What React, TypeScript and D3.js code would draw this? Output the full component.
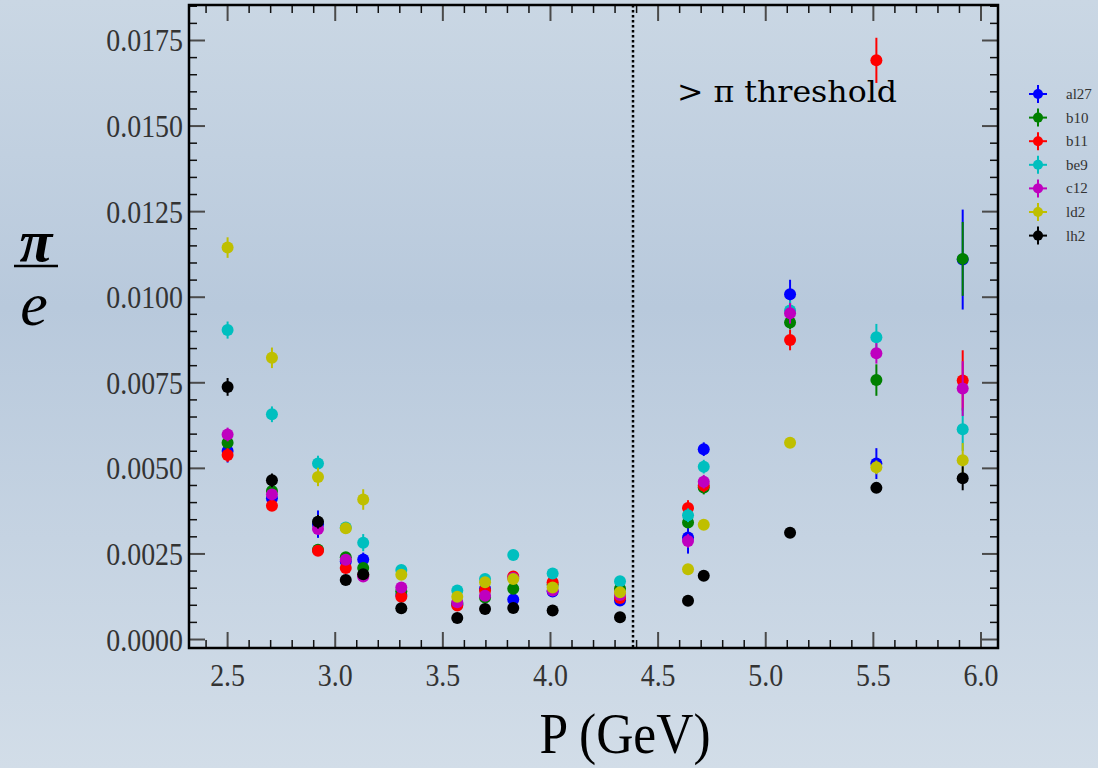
import React from "react";
import * as d3 from "d3";

const momenta = [2.5, 2.706, 2.92, 3.049, 3.13, 3.307, 3.567, 3.696, 3.827, 4.01, 4.323, 4.639, 4.712, 5.113, 5.514, 5.915];

const al27 = [0.00551, 0.00413, 0.00337, 0.00228, 0.00234, 0.0013, 0.00102, 0.00148, 0.00117, 0.0014, 0.00114, 0.00298, 0.00556, 0.01009, 0.00514, 0.0111];
const al27Err = [0.00034, 0.00015, 0.0004, 0.0001, 0.0002, 0.0001, 0.0001, 0.0001, 0.0001, 0.0001, 0.00015, 0.00047, 0.0002, 0.00042, 0.00045, 0.00146];
const b10 = [0.00575, 0.00434, 0.00262, 0.0024, 0.00209, 0.00141, 0.00105, 0.00123, 0.00148, 0.0016, 0.00148, 0.00342, 0.00444, 0.00926, 0.00758, 0.01112];
const b10Err = [0.0002, 0.00015, 0.0001, 0.0001, 0.0001, 0.0001, 0.0001, 0.0001, 0.0001, 0.0001, 0.0001, 0.00015, 0.0002, 0.0002, 0.00046, 0.00108];
const b11 = [0.00539, 0.00391, 0.00259, 0.00209, 0.00188, 0.00125, 0.00099, 0.00143, 0.00184, 0.00167, 0.00121, 0.00384, 0.0045, 0.00875, 0.01692, 0.00757];
const b11Err = [0.0002, 0.00015, 0.0001, 0.0001, 0.0001, 0.0001, 0.0001, 0.0001, 0.0001, 0.0001, 0.0001, 0.00023, 0.0002, 0.0003, 0.00066, 0.00088];
const be9 = [0.00904, 0.00658, 0.00514, 0.00327, 0.00283, 0.00203, 0.00143, 0.00177, 0.00247, 0.00193, 0.0017, 0.00363, 0.00505, 0.00961, 0.00883, 0.00614];
const be9Err = [0.00025, 0.00023, 0.00023, 0.0001, 0.00025, 0.0001, 0.0001, 0.0001, 0.0001, 0.0001, 0.0001, 0.0002, 0.0002, 0.0003, 0.00039, 0.00063];
const c12 = [0.00599, 0.00424, 0.00323, 0.00233, 0.00184, 0.00152, 0.00109, 0.00128, 0.0018, 0.00143, 0.0013, 0.00288, 0.00461, 0.00953, 0.00836, 0.00733];
const c12Err = [0.0002, 0.00015, 0.00015, 0.0001, 0.0001, 0.0001, 0.0001, 0.0001, 0.0001, 0.0001, 0.0001, 0.0002, 0.0002, 0.0003, 0.0003, 0.0008];
const ld2 = [0.01145, 0.00823, 0.00475, 0.00325, 0.00409, 0.00189, 0.00125, 0.00167, 0.00177, 0.00152, 0.00138, 0.00205, 0.00335, 0.00575, 0.00503, 0.00524];
const ld2Err = [0.0003, 0.0003, 0.00027, 0.0001, 0.0003, 0.0001, 0.0001, 0.0001, 0.0001, 0.0001, 0.0001, 0.0001, 0.0001, 0.0001, 0.0002, 0.0005];
const lh2 = [0.00738, 0.00465, 0.00344, 0.00174, 0.00191, 0.00091, 0.00063, 0.00089, 0.00092, 0.00085, 0.00065, 0.00113, 0.00186, 0.00312, 0.00443, 0.00471];
const lh2Err = [0.00026, 0.0002, 0.0002, 0.0001, 0.0001, 0.0001, 0.0001, 0.0001, 0.0001, 0.0001, 0.0001, 0.0001, 0.0001, 0.0001, 0.0001, 0.00035];

const seriesNames = ["al27", "b10", "b11", "be9", "c12", "ld2", "lh2"];
const seriesColors = ["#0000ff", "#008000", "#ff0000", "#00bfbf", "#bf00bf", "#bfbf00", "#000000"];
const seriesValues = [al27, b10, b11, be9, c12, ld2, lh2];
const seriesErrors = [al27Err, b10Err, b11Err, be9Err, c12Err, ld2Err, lh2Err];

const xMajorTicks = [2.5, 3.0, 3.5, 4.0, 4.5, 5.0, 5.5, 6.0];
const yMajorTicks = [0, 0.0025, 0.005, 0.0075, 0.01, 0.0125, 0.015, 0.0175];
const thresholdP = 4.382;

const W = 1098;
const H = 768;
const left = 189, right = 998, top = 5, bottom = 648;

export default function App() {
  const x = d3.scaleLinear().domain([2.3207, 6.079]).range([left, right]);
  const y = d3.scaleLinear().domain([-0.000248, 0.018537]).range([bottom, top]);

  const xMinor = d3.range(24, 61).map((v) => v / 10).filter((v) => x(v) > left + 1 && x(v) < right - 1 && Math.abs(v * 2 - Math.round(v * 2)) > 1e-6);
  const yMinor = d3.range(0, 38).map((v) => v * 0.0005).filter((v) => y(v) > top + 1 && y(v) < bottom - 1 && Math.abs(v / 0.0025 - Math.round(v / 0.0025)) > 1e-6);

  const majorColor = "#4a4a4a";
  const minorColor = "#111";
  const ML = 16, mL = 8;

  const serif = "'Liberation Serif', 'DejaVu Serif', serif";
  const tx = Math.round(x(thresholdP));

  return (
    <svg width={W} height={H} style={{ position: "absolute", left: 0, top: 0 }}>
      <defs>
        <linearGradient id="bg" x1="0" y1="0" x2="0" y2="1">
          <stop offset="0%" stopColor="#cad7e4" />
          <stop offset="40%" stopColor="#b8c9dc" />
          <stop offset="100%" stopColor="#d2dde8" />
        </linearGradient>
      </defs>
      <rect x={0} y={0} width={W} height={H} fill="url(#bg)" />

      {/* ticks */}
      <g>
        {xMinor.map((v, i) => (
          <g key={"xm" + i} stroke={minorColor} strokeWidth={1.5}>
            <line x1={x(v)} x2={x(v)} y1={bottom} y2={bottom - mL} />
            <line x1={x(v)} x2={x(v)} y1={top} y2={top + mL} />
          </g>
        ))}
        {xMajorTicks.map((v, i) => (
          <g key={"xM" + i} stroke={majorColor} strokeWidth={2}>
            <line x1={x(v)} x2={x(v)} y1={bottom} y2={bottom - ML} />
            <line x1={x(v)} x2={x(v)} y1={top} y2={top + ML} />
          </g>
        ))}
        {yMinor.map((v, i) => (
          <g key={"ym" + i} stroke={minorColor} strokeWidth={1.5}>
            <line x1={left} x2={left + mL} y1={y(v)} y2={y(v)} />
            <line x1={right} x2={right - mL} y1={y(v)} y2={y(v)} />
          </g>
        ))}
        {yMajorTicks.map((v, i) => (
          <g key={"yM" + i} stroke={majorColor} strokeWidth={2}>
            <line x1={left} x2={left + ML} y1={y(v)} y2={y(v)} />
            <line x1={right} x2={right - ML} y1={y(v)} y2={y(v)} />
          </g>
        ))}
      </g>

      {/* tick labels */}
      {xMajorTicks.map((v, i) => (
        <text key={"xl" + i} transform={`translate(${x(v)},${686}) scale(0.9,1)`} textAnchor="middle" fontFamily={serif} fontSize={31} fill="#333">
          {v.toFixed(1)}
        </text>
      ))}
      {yMajorTicks.map((v, i) => (
        <text key={"yl" + i} transform={`translate(${183},${y(v) + 11}) scale(0.9,1)`} textAnchor="end" fontFamily={serif} fontSize={31} fill="#333">
          {v.toFixed(4)}
        </text>
      ))}

      {/* threshold line */}
      <line x1={tx} x2={tx} y1={top} y2={bottom} stroke="#000" strokeWidth={2.5} strokeDasharray="2.5,2.5" />
      <text x={677} y={102} fontFamily="'DejaVu Serif', serif" fontSize={30} fill="#000" textLength={220} lengthAdjust="spacingAndGlyphs">
        {"> π threshold"}
      </text>

      {/* data */}
      {seriesValues.map((vals, s) => (
        <g key={"s" + s}>
          {vals.map((v, i) => (
            <g key={i}>
              <line x1={x(momenta[i])} x2={x(momenta[i])} y1={y(v - seriesErrors[s][i])} y2={y(v + seriesErrors[s][i])} stroke={seriesColors[s]} strokeWidth={2} />
              <circle cx={x(momenta[i])} cy={y(v)} r={6} fill={seriesColors[s]} />
            </g>
          ))}
        </g>
      ))}

      {/* frame */}
      <rect x={left} y={top} width={right - left} height={bottom - top} fill="none" stroke="#000" strokeWidth={2.5} />

      {/* axis labels */}
      <text transform={`translate(625,753) scale(0.92,1)`} textAnchor="middle" fontFamily={serif} fontSize={56} fill="#000">
        P (GeV)
      </text>
      <text x={36} y={261} textAnchor="middle" fontFamily={serif} fontStyle="italic" fontWeight="bold" fontSize={60} fill="#000">
        π
      </text>
      <line x1={14} x2={58} y1={266} y2={266} stroke="#000" strokeWidth={2.5} />
      <text x={34} y={325} textAnchor="middle" fontFamily={serif} fontStyle="italic" fontSize={62} fill="#000">
        e
      </text>

      {/* legend */}
      {seriesNames.map((name, s) => {
        const ly = 94 + s * 23.6;
        return (
          <g key={"lg" + s}>
            <line x1={1038} x2={1038} y1={ly - 9} y2={ly + 9} stroke={seriesColors[s]} strokeWidth={2} />
            <line x1={1029} x2={1047} y1={ly} y2={ly} stroke={seriesColors[s]} strokeWidth={2} />
            <circle cx={1038} cy={ly} r={5} fill={seriesColors[s]} />
            <text x={1066} y={ly + 5} fontFamily={serif} fontSize={15} fill="#333">
              {name}
            </text>
          </g>
        );
      })}
    </svg>
  );
}
